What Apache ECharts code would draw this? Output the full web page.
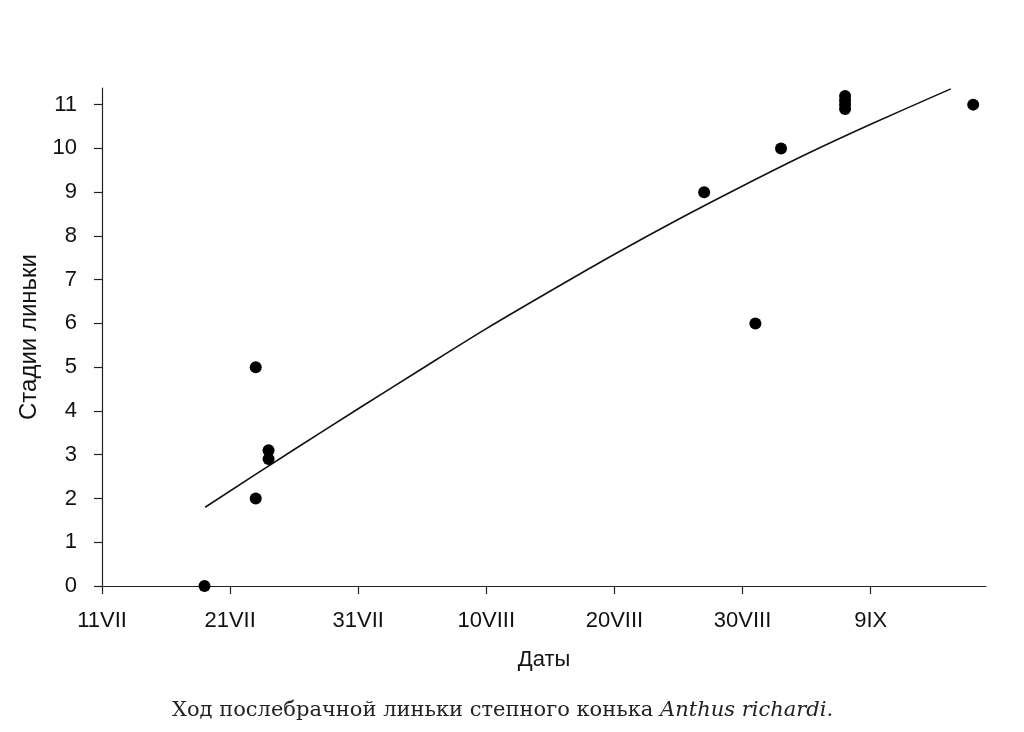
<!DOCTYPE html>
<html>
<head>
<meta charset="utf-8">
<script src="https://cdn.jsdelivr.net/npm/echarts@6/dist/echarts.min.js"></script>
<style>
html,body{margin:0;padding:0;background:#fff;}
#c{width:1024px;height:732px;}
</style>
</head>
<body>
<div id="c"></div>
<script>
// Days counted from 11 VII (day 0)
const tickDays = [0, 10, 20, 30, 40, 50, 60];
const tickLabels = ['11VII', '21VII', '31VII', '10VIII', '20VIII', '30VIII', '9IX'];
const yTicks = [0, 1, 2, 3, 4, 5, 6, 7, 8, 9, 10, 11];

// Observed moult stages
const pointDays   = [8, 12, 12, 13, 13, 47, 51, 53, 58, 58, 58, 58, 68];
const pointStages = [0, 5, 2, 3.1, 2.9, 9, 6, 10, 11.2, 11.1, 11.0, 10.9, 11];

// Fitted trend curve
const curveDays   = [8.05, 15, 20, 25, 30, 35, 40, 45, 50, 55, 60, 66.25];
const curveStages = [1.8, 3.12, 4.05, 4.97, 5.88, 6.74, 7.58, 8.38, 9.14, 9.87, 10.55, 11.36];

const pts = pointDays.map((d, i) => [d, pointStages[i]]);
const curve = curveDays.map((d, i) => [d, curveStages[i]]);

const font = 'Liberation Sans, Arial, sans-serif';
const chart = echarts.init(document.getElementById('c'), null, {renderer: 'canvas'});
chart.setOption({
  backgroundColor: '#fff',
  animation: false,
  grid: {left: 102, right: 38, top: 88, bottom: 146},
  xAxis: {
    type: 'value', min: 0, max: 69,
    name: 'Даты', nameLocation: 'middle', nameGap: 63,
    nameTextStyle: {fontFamily: font, fontSize: 22, color: '#111'},
    splitLine: {show: false},
    axisLine: {show: true, onZero: false, lineStyle: {color: '#222', width: 1.2}},
    axisTick: {show: true, inside: false, length: 8, customValues: tickDays, lineStyle: {color: '#222', width: 1.2}},
    axisLabel: {customValues: tickDays, margin: 24, fontFamily: font, fontSize: 22, color: '#111',
      formatter: v => { const i = tickDays.indexOf(v); return i >= 0 ? tickLabels[i] : ''; }}
  },
  yAxis: {
    type: 'value', min: 0, max: 11.38,
    name: 'Стадии линьки', nameLocation: 'middle', nameGap: 58,
    nameTextStyle: {fontFamily: font, fontSize: 24, color: '#111'},
    splitLine: {show: false},
    axisLine: {show: true, lineStyle: {color: '#222', width: 1.2}},
    axisTick: {show: true, inside: false, length: 8, customValues: yTicks, lineStyle: {color: '#222', width: 1.2}},
    axisLabel: {customValues: yTicks, margin: 25, fontFamily: font, fontSize: 22, color: '#111'}
  },
  series: [
    {
      type: 'line', data: curve, smooth: 0.3, showSymbol: false, symbol: 'none',
      lineStyle: {color: '#111', width: 1.6}, z: 2
    },
    {
      type: 'scatter', data: pts, symbol: 'circle', symbolSize: 12,
      itemStyle: {color: '#000', opacity: 1}, z: 3
    }
  ],
  graphic: [{
    type: 'text', left: 172, top: 700,
    style: {
      rich: {
        n: {fontFamily: 'DejaVu Serif, serif', fontSize: 21, fill: '#222'},
        i: {fontFamily: 'DejaVu Serif, serif', fontSize: 21, fontStyle: 'italic', fill: '#222'}
      },
      text: '{n|Ход послебрачной линьки степного конька }{i|Anthus richardi}{n|.}'
    }
  }]
});
</script>
</body>
</html>
